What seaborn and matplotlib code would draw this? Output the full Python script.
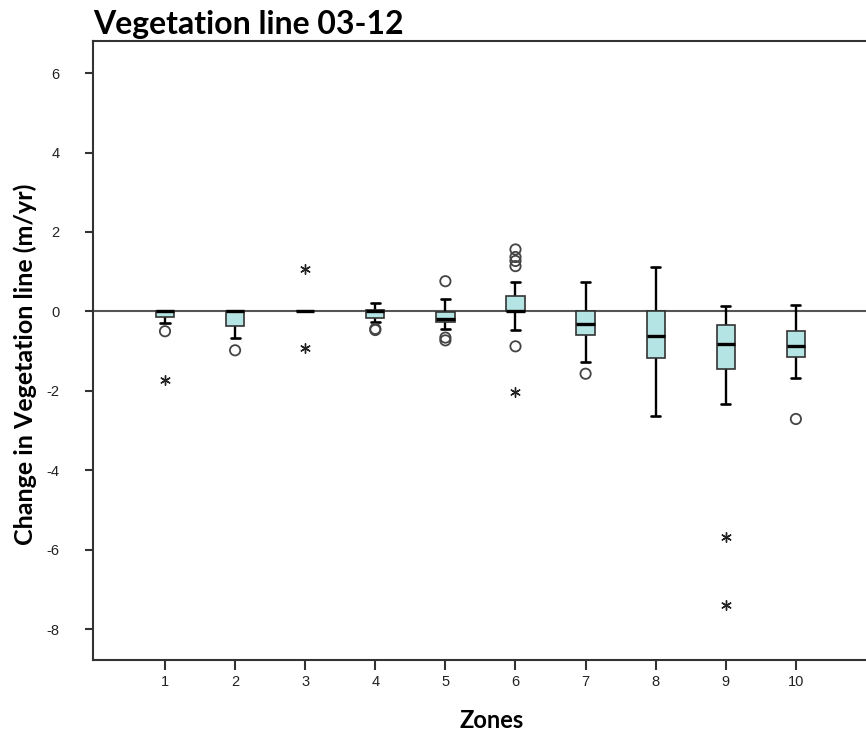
import matplotlib
matplotlib.use("Agg")
import matplotlib.pyplot as plt
import seaborn as sns
import pandas as pd
import numpy as np

# ---- data ----
zones = ["1", "2", "3", "4", "5", "6", "7", "8", "9", "10"]
whisker_low = [-0.30, -0.66, 0.00, -0.27, -0.45, -0.48, -1.28, -2.64, -2.32, -1.68]
q1 = [-0.15, -0.37, 0.00, -0.17, -0.27, 0.00, -0.59, -1.18, -1.46, -1.15]
median = [0.00, 0.00, 0.00, 0.02, -0.18, 0.00, -0.31, -0.63, -0.82, -0.88]
q3 = [0.00, 0.00, 0.00, 0.03, -0.02, 0.39, 0.00, 0.00, -0.35, -0.50]
whisker_high = [0.00, 0.00, 0.00, 0.20, 0.32, 0.74, 0.74, 1.12, 0.13, 0.15]

outlier_zone = ["1", "2", "4", "4", "5", "5", "5", "6", "6", "6", "6", "6", "7", "10"]
outlier_value = [-0.50, -0.98, -0.44, -0.47, 0.76, -0.66, -0.73, 1.56, 1.37, 1.27, 1.14, -0.88, -1.57, -2.71]

extreme_zone = ["1", "3", "3", "6", "9", "9"]
extreme_value = [-1.74, 1.08, -0.92, -2.02, -5.67, -7.40]

yticks = [-8, -6, -4, -2, 0, 2, 4, 6]

# ---- long table for seaborn ----
rows = []
for i, z in enumerate(zones):
    for v in (whisker_low[i], q1[i], median[i], q3[i], whisker_high[i]):
        rows.append({"Zone": z, "Change": v})
df = pd.DataFrame(rows)

sns.set_style("white")
plt.rcParams["font.family"] = ["Liberation Sans", "DejaVu Sans"]

W, H = 866, 735
fig = plt.figure(figsize=(W / 100, H / 100), dpi=100)
ax_left, ax_right, ax_top, ax_bottom = 93, 868, 41, 660
ax = fig.add_axes([ax_left / W, 1 - ax_bottom / H, (ax_right - ax_left) / W, (ax_bottom - ax_top) / H])

ax.axhline(0, color="#555555", lw=1.5, zorder=1)

sns.boxplot(
    data=df, x="Zone", y="Change", order=zones, ax=ax,
    width=0.26, whis=(0, 100), showfliers=False,
    color="#b4e4e4", saturation=1,
    boxprops=dict(facecolor="#b4e4e4", edgecolor="#333333", linewidth=1.2, zorder=3),
    whiskerprops=dict(color="black", linewidth=1.7, zorder=2),
    capprops=dict(color="black", linewidth=1.9, zorder=2),
    medianprops=dict(color="black", linewidth=2.4, zorder=4),
)

pos = {z: i for i, z in enumerate(zones)}
ax.scatter([pos[z] for z in outlier_zone], outlier_value, s=55, marker="o",
           facecolors="none", edgecolors="#444444", linewidths=1.3, zorder=5)
ax.scatter([pos[z] for z in extreme_zone], extreme_value, s=48, marker=(6, 2, 0),
           color="#222222", linewidths=1.0, zorder=5)

x_left = -1.027
x_right = x_left + (ax_right - ax_left) / 70.1
ax.set_xlim(x_left, x_right)
ax.set_ylim(-8.78, 6.81)
ax.set_yticks(yticks)
ax.set_yticklabels([str(t) for t in yticks])

for s in ["left", "bottom", "top", "right"]:
    ax.spines[s].set_color("#333333")
    ax.spines[s].set_linewidth(1.5)

ax.tick_params(axis="y", direction="out", length=6, width=1.5, color="#333333",
               pad=18, labelsize=10.5, labelcolor="#222222", left=True)
ax.tick_params(axis="x", direction="out", length=7, width=1.5, color="#333333",
               pad=4, labelsize=10.5, labelcolor="#222222", bottom=True)

ax.set_title("Vegetation line 03-12", loc="left", fontsize=23, fontweight="bold",
             family=["Lato", "DejaVu Sans"], pad=5, color="black")
ax.set_ylabel("Change in Vegetation line (m/yr)", fontsize=18, fontweight="bold",
              family=["Lato", "DejaVu Sans"], color="black")
ax.yaxis.set_label_coords((25 - ax_left) / (ax_right - ax_left), (ax_bottom - 364) / (ax_bottom - ax_top))
ax.yaxis.label.set_va("center")
ax.set_xlabel("Zones", fontsize=17, fontweight="bold", family=["Lato", "DejaVu Sans"], color="black")
ax.xaxis.set_label_coords((492 - ax_left) / (ax_right - ax_left), (ax_bottom - 720) / (ax_bottom - ax_top))
ax.xaxis.label.set_va("center")

fig.savefig("out.png", dpi=100)
